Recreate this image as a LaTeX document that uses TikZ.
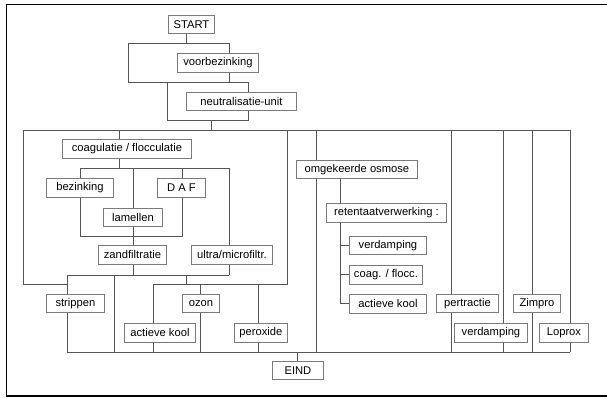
\documentclass[tikz,border=0pt]{standalone}
\usepackage{fontspec}
\setmainfont{Liberation Sans}
\usetikzlibrary{backgrounds}
\definecolor{schema-line}{HTML}{555555}
\definecolor{schema-box}{HTML}{7A7A7A}

\begin{document}
\begin{tikzpicture}[x=1pt, y=-1pt,
  blok/.style={draw=schema-box, fill=white, line width=0.9pt, inner sep=0pt,
    anchor=north west, minimum height=19pt, minimum width=#1,
    font=\fontsize{11.2}{13}\selectfont},
  lijn/.style={draw=schema-line, line width=0.9pt}]

  \useasboundingbox (0,0) rectangle (607,398);
  \draw[line width=1.6pt] (612,4.5) -- (6.3,4.5) -- (6.3,396) -- (612,396);

  % processtappen
  \node[blok=46, minimum height=18pt] (start) at (168,15) {START};
  \node[blok=81] (voor) at (177,53) {voorbezinking};
  \node[blok=110, minimum height=18pt] (neut) at (186,92) {neutralisatie-unit};
  \node[blok=129] (coag) at (62,139) {coagulatie / flocculatie};
  \node[blok=67] (bez) at (46,178) {bezinking};
  \node[blok=48] (daf) at (157,178) {D A F};
  \node[blok=59, minimum height=18pt] (lam) at (103,208) {lamellen};
  \node[blok=68] (zand) at (98,245) {zandfiltratie};
  \node[blok=81] (ultra) at (191,245) {ultra/microfiltr.};
  \node[blok=58, minimum height=18pt] (strip) at (46,294) {strippen};
  \node[blok=37, minimum height=18pt] (ozon) at (182,294) {ozon};
  \node[blok=71] (akool) at (124,323) {actieve kool};
  \node[blok=53] (perox) at (234,323) {peroxide};
  \node[blok=121, minimum height=18pt] (omg) at (296,160) {omgekeerde osmose};
  \node[blok=120] (ret) at (326,203) {retentaatverwerking :};
  \node[blok=77, minimum height=18pt] (verd1) at (349,236) {verdamping};
  \node[blok=73] (coagb) at (349,264.5) {coag. / flocc.};
  \node[blok=77] (akool2) at (349,294) {actieve kool};
  \node[blok=62, minimum height=18pt] (pert) at (436,294) {pertractie};
  \node[blok=73] (verd2) at (454,323) {verdamping};
  \node[blok=47, minimum height=18pt] (zimp) at (513,294) {Zimpro};
  \node[blok=49] (lopr) at (539,323) {Loprox};
  \node[blok=51, minimum height=18pt] (eind) at (272,361) {EIND};

  % knooppunten
  \coordinate (s0) at (186,43);
  \coordinate (a1) at (128,43);
  \coordinate (a4) at (229,82);
  \coordinate (b1) at (167,82);
  \coordinate (b2) at (248,82);
  \coordinate (c2) at (248,120);
  \coordinate (c3) at (211,120);
  \coordinate (d0) at (211,130);
  \coordinate (m0) at (23,130);
  \coordinate (m1) at (570,130);
  \coordinate (m2) at (287,130);
  \coordinate (k0) at (119,130);
  \coordinate (k1) at (119,168);
  \coordinate (h1) at (80,168);
  \coordinate (h2) at (133,168);
  \coordinate (h4) at (229,168);
  \coordinate (g2) at (182,236);
  \coordinate (r0) at (67,275);
  \coordinate (r1) at (114,275);
  \coordinate (r2) at (186,275);
  \coordinate (z1) at (133,275);
  \coordinate (u1) at (229,275);
  \coordinate (l2) at (67,284);
  \coordinate (p0) at (186,284);
  \coordinate (p1) at (153,284);
  \coordinate (p2) at (200,284);
  \coordinate (p3) at (258,284);
  \coordinate (e0) at (67,352);
  \coordinate (e1) at (570,352);
  \coordinate (e2) at (114,352);
  \coordinate (e3) at (153,352);
  \coordinate (e4) at (200,352);
  \coordinate (e5) at (258,352);
  \coordinate (e6) at (297,352);
  \coordinate (o1) at (340,178);
  \coordinate (o2) at (340,303.5);
  \foreach \x [count=\i] in {316,451,503,532,570} {
    \coordinate (top\i) at (\x,130);
    \coordinate (bot\i) at (\x,352);
  }

  \begin{scope}[on background layer]
    % voorbehandeling
    \draw[lijn] (start.south -| s0) -- (s0);
    \draw[lijn] (a1) rectangle (a4);
    \draw[lijn] (a4) -- (b2);
    \draw[lijn] (b1) rectangle (c2);
    \draw[lijn] (c3) -- (d0);
    \draw[lijn] (m0) -- (m1);

    % fysisch-chemisch
    \draw[lijn] (m0) |- (l2);
    \draw[lijn] (k0) -- (k1);
    \draw[lijn] (h1) -- (h4);
    \draw[lijn] (h1) rectangle (g2);
    \draw[lijn] (h2) -- (z1);
    \draw[lijn] (h4) -- (u1);
    \draw[lijn] (r0) -- (u1);
    \draw[lijn] (r0) -- (e0);
    \draw[lijn] (r1) -- (e2);
    \draw[lijn] (r2) -- (p0);
    \draw[lijn] (m2) |- (p1);
    \draw[lijn] (p1) -- (e3);
    \draw[lijn] (p2) -- (e4);
    \draw[lijn] (p3) -- (e5);

    % membraan en overige
    \foreach \i in {1,...,5}
      \draw[lijn] (top\i) -- (bot\i);
    \draw[lijn] (omg.south -| o1) -- (o2) -- (akool2.west |- o2);
    \draw[lijn] (verd1.west -| o1) -- (verd1.west);
    \draw[lijn] (coagb.west -| o1) -- (coagb.west);

    \draw[lijn] (e0) -- (e1);
    \draw[lijn] (e6) -- (eind.north -| e6);
  \end{scope}

\end{tikzpicture}
\end{document}
